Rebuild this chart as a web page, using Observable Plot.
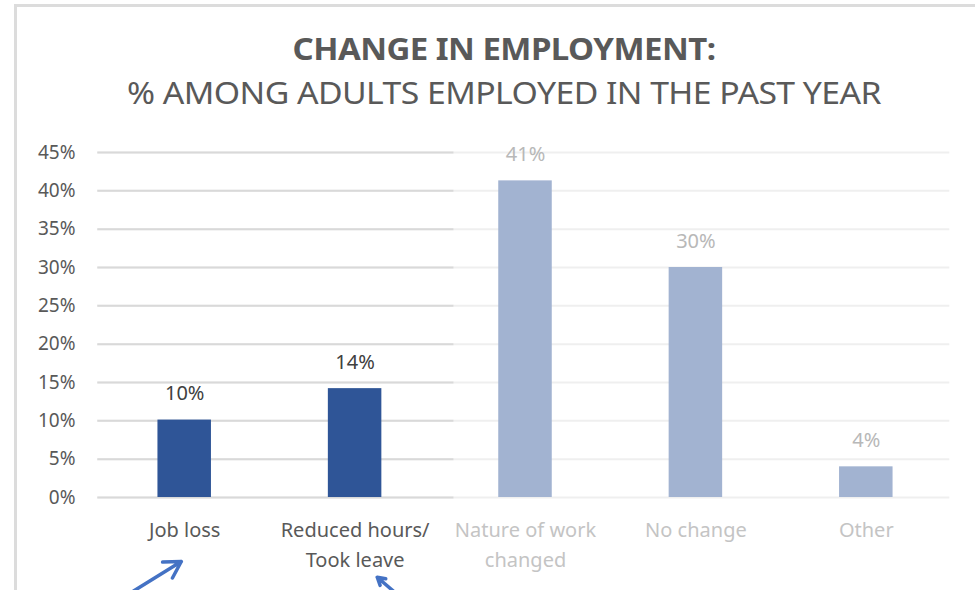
<!DOCTYPE html>
<html>
<head>
<meta charset="utf-8">
<script src="https://cdn.jsdelivr.net/npm/d3@7"></script>
<script src="https://cdn.jsdelivr.net/npm/@observablehq/plot@0.6"></script>
<style>
  html, body { margin: 0; padding: 0; background: #fff; width: 975px; height: 590px; overflow: hidden; }
  body { position: relative; font-family: "Noto Sans", sans-serif; }
  #frame { position: absolute; left: 14px; top: 4px; width: 1000px; height: 700px;
           border-top: 3px solid #dcdcdc; border-left: 3px solid #dcdcdc; }
  #head { position: relative; height: 140px; }
  .t { position: absolute; left: 504px; white-space: nowrap; color: #595959; font-size: 30px; letter-spacing: -0.5px; }
  #title { top: 48px; font-weight: bold; transform: translate(-50%, -50%) scaleX(1.10); }
  #subtitle { top: 92px; transform: translate(-50%, -50%) scaleX(1.125); }
  #chart { position: relative; }
</style>
</head>
<body>
<div id="frame"></div>
<div id="head">
  <div class="t" id="title">CHANGE IN EMPLOYMENT:</div>
  <div class="t" id="subtitle">% AMONG ADULTS EMPLOYED IN THE PAST YEAR</div>
</div>
<div id="chart"></div>
<script>
// ---- data ----
const categories = ["Job loss", "Reduced hours/\nTook leave", "Nature of work\nchanged", "No change", "Other"];
const values = [10.1, 14.2, 41.3, 30.0, 4.0];
const valueLabels = ["10%", "14%", "41%", "30%", "4%"];
const highlighted = [true, true, false, false, false];
const yTicks = [0, 5, 10, 15, 20, 25, 30, 35, 40, 45];
// annotation arrows (data space: category index, percent)
const arrowX1 = [-0.30, 1.245];
const arrowY1 = [-12.2, -12.6];
const arrowX2 = [-0.02, 1.13];
const arrowY2 = [-8.35, -10.4];
const fadeFrom = 1.58; // category-index position where the faded region begins

const rows = categories.map((c, i) => ({i, c, v: values[i], lab: valueLabels[i], hi: highlighted[i]}));
const arrows = arrowX1.map((x, k) => ({x1: x, y1: arrowY1[k], x2: arrowX2[k], y2: arrowY2[k]}));

const halfBar = 0.157;

const chart = Plot.plot({
  width: 975,
  height: 450,
  marginTop: 12,
  marginBottom: 93,
  marginLeft: 99,
  marginRight: 24,
  style: {fontFamily: "Noto Sans, sans-serif", background: "transparent", overflow: "visible"},
  x: {domain: [-0.5, 4.5], axis: null},
  y: {domain: [0, 45], ticks: yTicks, tickFormat: d => d + "%", tickSize: 0, tickPadding: 24, label: null},
  marks: [
    Plot.ruleY(yTicks, {x1: -0.51, x2: 4.49, stroke: "#efefef", strokeWidth: 2}),
    Plot.ruleY(yTicks, {x1: -0.51, x2: fadeFrom, stroke: "#d9d9d9", strokeWidth: 2}),
    Plot.axisY({ticks: yTicks, tickFormat: d => d + "%", tickSize: 0, tickPadding: 24, fontSize: 19, color: "#595959", label: null}),
    Plot.rectY(rows, {x1: d => d.i - halfBar, x2: d => d.i + halfBar, y1: 0, y2: "v",
      fill: d => d.hi ? "#2f5597" : "#a2b3d1"}),
    Plot.text(rows, {x: "i", y: "v", text: "lab", dy: -26, fontSize: 20,
      fill: d => d.hi ? "#404040" : "#b8b8b8"}),
    Plot.text(rows, {x: "i", y: 0, text: "c", lineAnchor: "top", dy: 18, fontSize: 20, lineHeight: 1.5,
      fill: d => d.hi ? "#595959" : "#c4c4c4"}),
    Plot.arrow(arrows, {x1: "x1", y1: "y1", x2: "x2", y2: "y2", stroke: "#4472c4", strokeWidth: 3.5,
      headLength: 16, headAngle: 60})
  ]
});
document.getElementById("chart").appendChild(chart);
</script>
</body>
</html>
